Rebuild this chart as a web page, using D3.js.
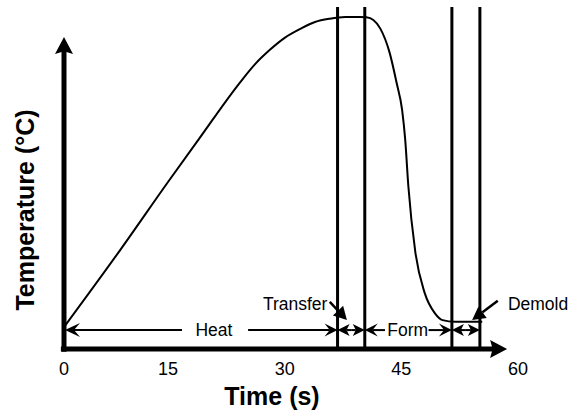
<!DOCTYPE html>
<html><head><meta charset="utf-8">
<script src="https://cdn.jsdelivr.net/npm/d3@7"></script>
<style>
body{margin:0;background:#fff}
svg{display:block}
text{font-family:Arial,"Liberation Sans",sans-serif;fill:#000}
</style>
</head><body>
<svg id="c" width="571" height="413"></svg>
<script>
// ---- data ----
const timeTicks = [0, 15, 30, 45, 60];
const tickLabels = ["0", "15", "30", "45", "60"];
const curveTime = [0, 8.1, 15, 18.9, 24.3, 26.2, 28.1, 30.0, 32.0, 33.9, 35.8, 37.8, 39.7, 40.5, 41.4, 42.3, 43.5, 44.4, 45.1, 45.5, 45.9, 46.8, 48.0, 49.3, 50.3, 51.9, 55.4];
const curveTemp = [6.6, 29.8, 50.3, 63.0, 80.4, 85.8, 90.1, 93.7, 96.4, 98.5, 99.5, 100, 100, 99.9, 99.1, 96.5, 89.2, 80.1, 72.0, 63.0, 49.1, 29.2, 16.9, 10.8, 8.7, 8.2, 8.2];
const stageBounds = [36.8, 40.3, 51.5, 55.1];
const stageNames = ["Heat", "Transfer", "Form", "Demold"];

// ---- layout ----
const svg = d3.select("#c");
const x = d3.scaleLinear().domain([0, 15, 60]).range([64, 168, 518]);
const y = d3.scaleLinear().domain([0, 100]).range([349, 17]);

function head(px, py, ang, L, W, notch) {
  const c = Math.cos(ang), s = Math.sin(ang);
  const pts = [[0, 0], [-L, -W], [-L * notch, 0], [-L, W]];
  return "M" + pts.map(([u, v]) => [px + u * c - v * s, py + u * s + v * c].join(",")).join("L") + "Z";
}
function arrow(x1, y1, x2, y2, L, W, notch, sw) {
  const ang = Math.atan2(y2 - y1, x2 - x1);
  const back = L * notch;
  svg.append("line").attr("x1", x1).attr("y1", y1)
    .attr("x2", x2 - back * Math.cos(ang)).attr("y2", y2 - back * Math.sin(ang))
    .attr("stroke", "#000").attr("stroke-width", sw);
  svg.append("path").attr("d", head(x2, y2, ang, L, W, notch)).attr("fill", "#000");
}

// stage boundary lines
svg.selectAll("line.stage").data(stageBounds).join("line")
  .attr("class", "stage")
  .attr("x1", d => x(d)).attr("x2", d => x(d))
  .attr("y1", y(103)).attr("y2", y(0))
  .attr("stroke", "#000").attr("stroke-width", 3);

// curve
const pts = curveTime.map((t, i) => [t, curveTemp[i]]);
svg.append("path")
  .attr("d", d3.line().x(d => x(d[0])).y(d => y(d[1])).curve(d3.curveMonotoneX)(pts))
  .attr("fill", "none").attr("stroke", "#000").attr("stroke-width", 2);

// axes
const x0 = x(0), y0 = y(0);
svg.append("line").attr("x1", x0).attr("x2", x0).attr("y1", y(-0.8)).attr("y2", y(94) + 14)
  .attr("stroke", "#000").attr("stroke-width", 5);
svg.append("path").attr("d", head(x0, y(94), -Math.PI / 2, 17, 9, 0.85)).attr("fill", "#000");
svg.append("line").attr("x1", x(-0.45)).attr("x2", x(58.6) - 14).attr("y1", y0).attr("y2", y0)
  .attr("stroke", "#000").attr("stroke-width", 5);
svg.append("path").attr("d", head(x(58.6), y0, 0, 17, 9, 0.85)).attr("fill", "#000");

// tick labels
svg.selectAll("text.tick").data(timeTicks).join("text")
  .attr("class", "tick")
  .attr("x", d => x(d)).attr("y", 375)
  .attr("text-anchor", "middle").attr("font-size", 18)
  .text((d, i) => tickLabels[i]);

// axis titles
svg.append("text").attr("x", 272).attr("y", 405).attr("text-anchor", "middle")
  .attr("font-size", 25).attr("font-weight", "bold").text("Time (s)");
svg.append("text").attr("transform", "translate(34,210) rotate(-90)").attr("text-anchor", "middle")
  .attr("font-size", 25).attr("font-weight", "bold").text("Temperature (°C)");

// stage annotations
const rowT = 5.7, ry = y(rowT);
// Heat
arrow(x(16.8), ry, x(0) + 1, ry, 15, 7, 0.6, 2);
arrow(x(25.3), ry, x(stageBounds[0]), ry, 13, 6.5, 0.6, 2);
svg.append("text").attr("x", x(20.9)).attr("y", ry).attr("dy", "0.35em")
  .attr("text-anchor", "middle").attr("font-size", 17.5).text(stageNames[0]);
// Transfer double arrow
const mid1 = (x(stageBounds[0]) + x(stageBounds[1])) / 2;
arrow(mid1, ry, x(stageBounds[0]), ry, 12, 6, 0.75, 2);
arrow(mid1, ry, x(stageBounds[1]), ry, 12, 6, 0.75, 2);
// Form
arrow(x(42.9), ry, x(stageBounds[1]), ry, 13, 6.5, 0.6, 2);
arrow(x(48.5), ry, x(stageBounds[2]), ry, 13, 6.5, 0.6, 2);
svg.append("text").attr("x", x(43.2)).attr("y", ry).attr("dy", "0.35em")
  .attr("font-size", 17.5).text(stageNames[2]);
// Demold double arrow
const mid2 = (x(stageBounds[2]) + x(stageBounds[3])) / 2;
arrow(mid2, ry, x(stageBounds[2]), ry, 12, 6, 0.75, 2);
arrow(mid2, ry, x(stageBounds[3]), ry, 12, 6, 0.75, 2);

// Transfer label + pointer
svg.append("text").attr("x", x(27.2)).attr("y", y(11.7)).attr("font-size", 17.5).text(stageNames[1]);
arrow(x(35.8), y(14.2), x(38.0), y(8.7), 13, 7, 1, 2.5);
// Demold label + pointer
svg.append("text").attr("x", x(58.7)).attr("y", y(11.7)).attr("font-size", 17.5).text(stageNames[3]);
arrow(x(57.4), y(14.5), x(54.1), y(8.7), 13, 7, 1, 2.5);
</script>
</body></html>
